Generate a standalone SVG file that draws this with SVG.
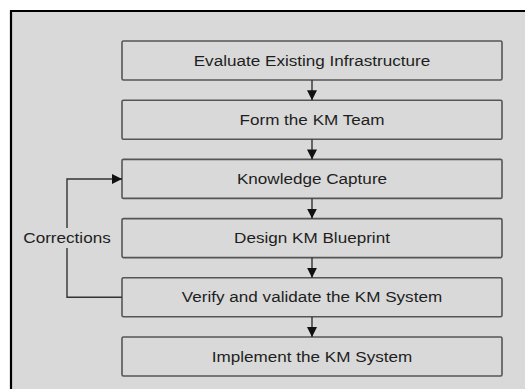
<svg xmlns="http://www.w3.org/2000/svg" width="525" height="389" viewBox="0 0 525 389">
<style>
.box{fill:#d9d9d9;stroke:#555;stroke-width:1.6}
.lbl{font-family:"Liberation Sans",Arial,sans-serif;font-size:15px;fill:#1e1e1e;text-anchor:middle}
.con{fill:none;stroke:#333;stroke-width:1.4}
</style>
<defs>
<marker id="ah" viewBox="0 0 10 10" refX="10" refY="5" markerWidth="10" markerHeight="10" markerUnits="userSpaceOnUse" orient="auto">
<path d="M0,0 L10,5 L0,10 Z" fill="#111"/>
</marker>
</defs>
<rect x="0" y="0" width="525" height="389" fill="#fff"/>
<rect x="11" y="11" width="520" height="390" fill="#d9d9d9"/>
<path d="M11,389 V11 H525" fill="none" stroke="#000" stroke-width="2.2"/>
<g id="n1"><rect class="box" x="122" y="41" width="380" height="39" rx="1.5"/><text class="lbl" transform="translate(312,65.5) scale(1.14,1)">Evaluate Existing Infrastructure</text></g>
<g id="n2"><rect class="box" x="122" y="100.2" width="380" height="39" rx="1.5"/><text class="lbl" transform="translate(312,124.7) scale(1.14,1)">Form the KM Team</text></g>
<g id="n3"><rect class="box" x="122" y="159.4" width="380" height="39" rx="1.5"/><text class="lbl" transform="translate(312,183.9) scale(1.14,1)">Knowledge Capture</text></g>
<g id="n4"><rect class="box" x="122" y="218.6" width="380" height="39" rx="1.5"/><text class="lbl" transform="translate(312,243.1) scale(1.14,1)">Design KM Blueprint</text></g>
<g id="n5"><rect class="box" x="122" y="277.8" width="380" height="39" rx="1.5"/><text class="lbl" transform="translate(312,302.3) scale(1.14,1)">Verify and validate the KM System</text></g>
<g id="n6"><rect class="box" x="122" y="337" width="380" height="39" rx="1.5"/><text class="lbl" transform="translate(312,361.5) scale(1.14,1)">Implement the KM System</text></g>
<g id="connectors">
<path class="con" d="M312,80 V100.2" marker-end="url(#ah)"/>
<path class="con" d="M312,139.2 V159.4" marker-end="url(#ah)"/>
<path class="con" d="M312,198.4 V218.6" marker-end="url(#ah)"/>
<path class="con" d="M312,257.6 V277.8" marker-end="url(#ah)"/>
<path class="con" d="M312,316.8 V337" marker-end="url(#ah)"/>
<path class="con" d="M122,297.3 H67 V179 H122" marker-end="url(#ah)"/>
<rect x="20" y="228" width="94" height="20" fill="#d9d9d9"/>
<text class="lbl" transform="translate(67,243) scale(1.14,1)">Corrections</text>
</g>
</svg>
